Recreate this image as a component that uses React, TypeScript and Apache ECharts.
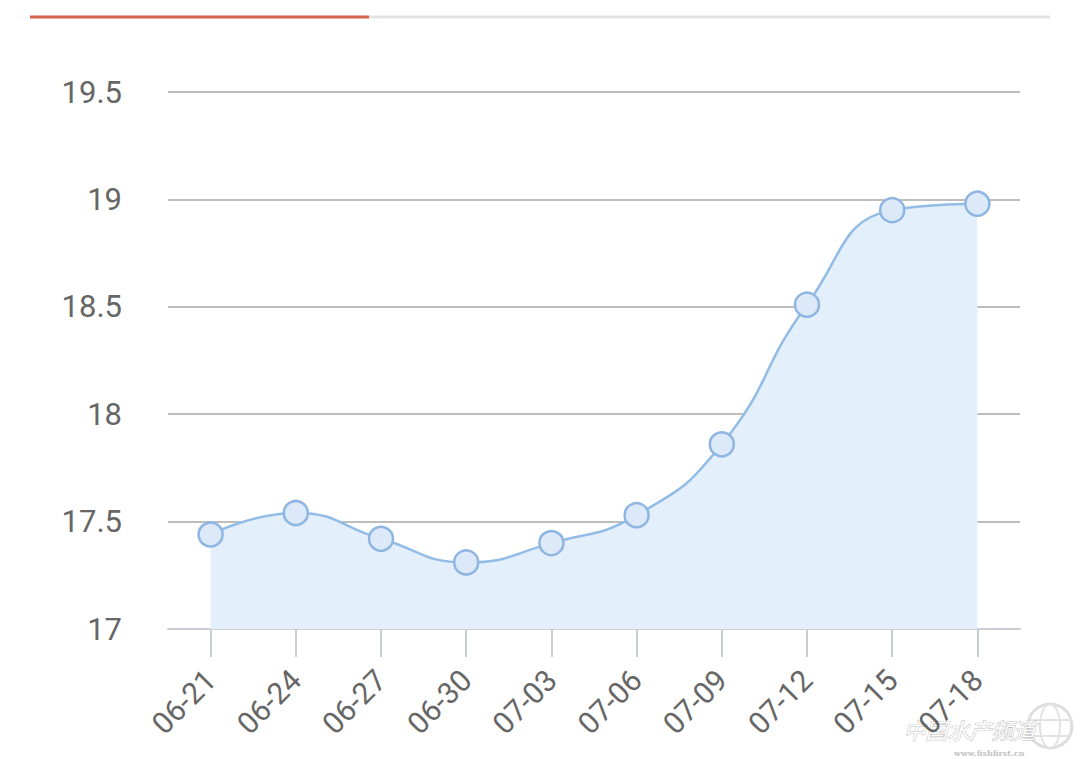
import React, { useEffect, useRef } from "react";
import * as echarts from "echarts";

const categories = ["06-21", "06-24", "06-27", "06-30", "07-03", "07-06", "07-09", "07-12", "07-15", "07-18"];
const values = [17.44, 17.54, 17.42, 17.31, 17.4, 17.53, 17.86, 18.51, 18.95, 18.98];
const yTicks = [17, 17.5, 18, 18.5, 19, 19.5];

export default function App() {
  const ref = useRef<HTMLDivElement>(null);
  useEffect(() => {
    document.body.style.margin = "0";
    const chart = echarts.init(ref.current!, null, { renderer: "svg" });
    chart.setOption({
      animation: false,
      backgroundColor: "#ffffff",
      grid: { left: 168, right: 60, top: 92, bottom: 130 },
      graphic: [
        { type: "line", shape: { x1: 369, y1: 17, x2: 1050, y2: 17 }, style: { stroke: "#e3e3e3", lineWidth: 3 } },
        { type: "line", shape: { x1: 30, y1: 17, x2: 369, y2: 17 }, style: { stroke: "#d4644e", lineWidth: 3 } },
        { type: "circle", shape: { cx: 1050, cy: 726, r: 22 }, style: { fill: "none", stroke: "#dddddd", lineWidth: 3 } },
        { type: "ellipse", shape: { cx: 1050, cy: 726, rx: 10, ry: 22 }, style: { fill: "none", stroke: "#e2e2e2", lineWidth: 2 } },
        { type: "line", shape: { x1: 1028, y1: 720, x2: 1072, y2: 720 }, style: { stroke: "#e2e2e2", lineWidth: 2 } },
        { type: "line", shape: { x1: 1030, y1: 736, x2: 1070, y2: 736 }, style: { stroke: "#e2e2e2", lineWidth: 2 } },
        {
          type: "text",
          left: 903,
          top: 717,
          style: { text: "中国水产频道", fill: "#ffffff", stroke: "#bdbdbd", lineWidth: 1, font: "italic 22px 'Noto Sans CJK SC'", lineHeight: 24 },
        },
        {
          type: "text",
          left: 954,
          top: 748,
          style: { text: "www.fishfirst.cn", fill: "#c4c4c4", font: "bold 8px 'DejaVu Serif'", lineHeight: 9 },
        },
      ],
      xAxis: {
        type: "category",
        data: categories,
        boundaryGap: true,
        axisLine: { lineStyle: { color: "#c9cdd6", width: 2 } },
        axisTick: { show: true, alignWithLabel: true, length: 28, lineStyle: { color: "#c9cdd6", width: 2 } },
        axisLabel: { rotate: 45, color: "#666666", fontSize: 30, fontFamily: "Roboto", margin: 46, interval: 0 },
      },
      yAxis: {
        type: "value",
        min: 17,
        max: 19.5,
        interval: 0.5,
        axisLine: { show: false },
        axisTick: { show: false },
        axisLabel: {
          color: "#666666",
          fontSize: 31,
          fontFamily: "Roboto",
          margin: 46,
          padding: [8, 0, 0, 0],
          formatter: (v: number) => (yTicks.includes(v) ? String(v) : ""),
        },
        splitLine: { lineStyle: { color: "#bdbdbd", width: 2 } },
      },
      series: [
        {
          type: "line",
          data: values,
          smooth: true,
          symbol: "circle",
          symbolSize: 24,
          lineStyle: { color: "#92bce6", width: 2.5 },
          itemStyle: { color: "#dce9f8", borderColor: "#8fb6e2", borderWidth: 2.5 },
          areaStyle: { color: "#e4effc", opacity: 1 },
        },
      ],
    });
    return () => chart.dispose();
  }, []);
  return <div ref={ref} style={{ position: "fixed", left: 0, top: 0, width: 1080, height: 759 }} />;
}
